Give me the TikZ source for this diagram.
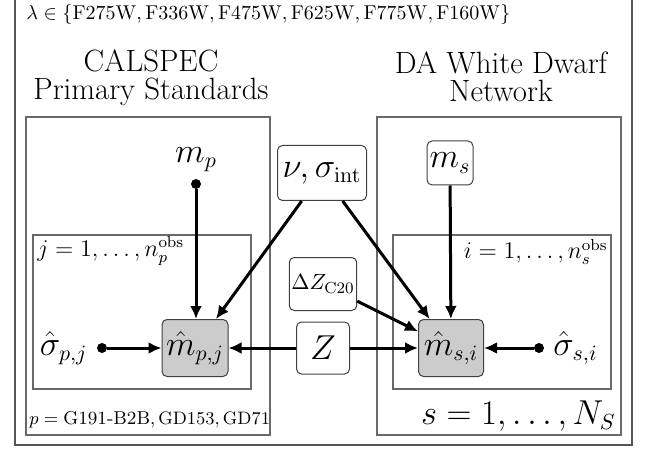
\documentclass[tikz,border=0pt]{standalone}
\usepackage{amsmath}
\usetikzlibrary{arrows.meta, positioning}
\definecolor{framegray}{RGB}{85, 85, 85}
\definecolor{plategray}{RGB}{105, 105, 105}
\definecolor{obsgray}{RGB}{204, 204, 204}
\newcommand{\headfont}{\fontsize{15.4}{14}\selectfont}
\newcommand{\pgmfont}{\fontsize{16}{19}\selectfont}
\newcommand{\platefont}{\fontsize{12}{14}\selectfont}

\begin{document}
\begin{tikzpicture}[x=0.5pt, y=-0.5pt,
  plate/.style={draw=plategray, line width=0.7pt},
  param/.style={draw=black!75, rounded corners=2.5pt, line width=0.5pt, inner sep=1pt, font=\pgmfont},
  obs/.style={param, fill=obsgray},
  dot/.style={circle, fill=black, inner sep=0pt, minimum size=5pt},
  edge/.style={-{Latex[length=6.5pt, width=6pt]}, line width=1.5pt}]
  \clip (0,0) rectangle (651,459);

  % Frame and bands
  \draw[draw=framegray, line width=1pt] (15,-10) rectangle (632,445);
  \node[anchor=west, inner sep=0pt] (bands) at (26,15)
    {$\lambda \in \{\mathrm{F275W}, \mathrm{F336W}, \mathrm{F475W}, \mathrm{F625W}, \mathrm{F775W}, \mathrm{F160W}\}$};

  % CALSPEC primary standards
  \node[font=\headfont, align=center] (calspec) at (151,78) {CALSPEC\\Primary Standards};
  \draw[plate] (26,117) rectangle (270,435);
  \draw[plate] (33,235) rectangle (251,389);
  \node[anchor=west, inner sep=0pt, font=\platefont] (jlab) at (37,251) {$j = 1, \ldots, n_p^{\mathrm{obs}}$};
  \node[anchor=west, inner sep=0pt, font=\fontsize{9.3}{11}\selectfont] (plab) at (29,420)
    {$p = \mbox{G191-B2B}, \mathrm{GD153}, \mathrm{GD71}$};

  \node[dot] (mpdot) at (196,184) {};
  \node[above=0pt of mpdot, font=\pgmfont] (mp) {$m_p$};
  \node[obs, minimum width=33pt, minimum height=28.5pt] (mpj) at (195,348) {$\hat{m}_{p,j}$};
  \node[dot] (spjdot) at (102,348) {};
  \node[left=1pt of spjdot, font=\pgmfont] (spj) {$\hat{\sigma}_{p,j}$};

  % Shared parameters
  \node[param, minimum width=44.5pt, minimum height=27.5pt] (nu) at (322,173) {$\nu, \sigma_{\mathrm{int}}$};
  \node[param, minimum width=32.5pt, minimum height=26.5pt, font=\fontsize{11}{13}\selectfont] (dz) at (323,284) {$\Delta Z_{\mathrm{C20}}$};
  \node[param, minimum width=26.5pt, minimum height=26pt] (z) at (323,348) {$Z$};

  % DA white dwarf network
  \node[font=\headfont, align=center] (network) at (501,77) {DA White Dwarf\\Network};
  \draw[plate] (377,117) rectangle (621,435);
  \draw[plate] (393,235) rectangle (611,389);
  \node[anchor=east, inner sep=0pt, font=\platefont] (ilab) at (608,252) {$i = 1, \ldots, n_s^{\mathrm{obs}}$};
  \node[anchor=east, inner sep=0pt, font=\pgmfont] (slab) at (616,416) {$s = 1, \ldots, N_S$};

  \node[param, minimum width=23pt, minimum height=22pt] (ms) at (450,163) {$m_s$};
  \node[obs, minimum width=32.5pt, minimum height=28.5pt] (msi) at (451,348) {$\hat{m}_{s,i}$};
  \node[dot] (sidot) at (539,348) {};
  \node[right=1pt of sidot, font=\pgmfont] (ssi) {$\hat{\sigma}_{s,i}$};

  % Edges
  \draw[edge] (mpdot) -- (mpdot |- mpj.north);
  \draw[edge] (spjdot) -- (mpj);
  \draw[edge] (nu) -- (mpj);
  \draw[edge] (z) -- (mpj);
  \draw[edge] (nu) -- (msi);
  \draw[edge] (dz) -- (msi);
  \draw[edge] (z) -- (msi);
  \draw[edge] (ms) -- (msi);
  \draw[edge] (sidot) -- (msi);
\end{tikzpicture}
\end{document}
